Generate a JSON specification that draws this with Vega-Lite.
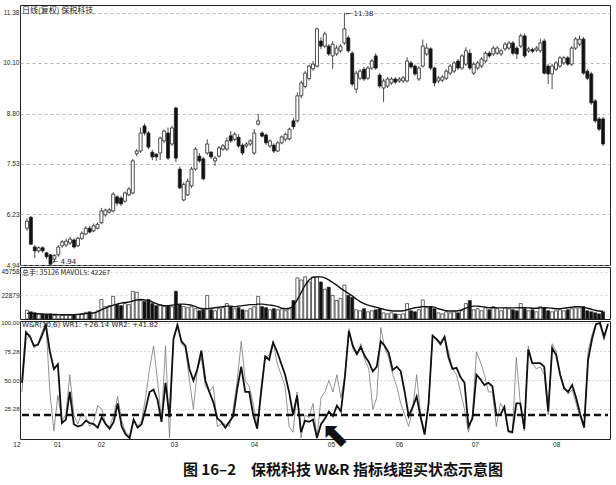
{
"$schema":"https://vega.github.io/schema/vega-lite/v6.json",
"padding":{"left":0,"top":4,"right":6,"bottom":4},
"background":"white",
"spacing":2,
"bounds":"flush",
"datasets":{
"k":[
{"i":0,"o":5.88,"c":6.06,"h":6.13,"l":5.81,"v":8500,"ma":5500,"w1":48,"w2":40},
{"i":1,"o":6.16,"c":5.47,"h":6.19,"l":5.45,"v":7000,"ma":5500,"w1":92,"w2":85},
{"i":2,"o":5.40,"c":5.30,"h":5.45,"l":5.12,"v":6000,"ma":5300,"w1":88,"w2":90},
{"i":3,"o":5.30,"c":5.38,"h":5.42,"l":5.25,"v":5000,"ma":5000,"w1":80,"w2":78},
{"i":4,"o":5.38,"c":5.30,"h":5.42,"l":5.25,"v":4500,"ma":4800,"w1":81,"w2":82},
{"i":5,"o":5.25,"c":5.15,"h":5.28,"l":5.10,"v":4200,"ma":4600,"w1":89,"w2":92},
{"i":6,"o":5.20,"c":4.96,"h":5.22,"l":4.94,"v":5000,"ma":4500,"w1":98,"w2":100},
{"i":7,"o":5.09,"c":5.18,"h":5.22,"l":5.02,"v":3500,"ma":4400,"w1":75,"w2":40},
{"i":8,"o":5.20,"c":5.40,"h":5.45,"l":5.15,"v":4000,"ma":4300,"w1":60,"w2":6},
{"i":9,"o":5.43,"c":5.53,"h":5.58,"l":5.38,"v":3500,"ma":4200,"w1":64,"w2":37},
{"i":10,"o":5.45,"c":5.55,"h":5.62,"l":5.40,"v":4000,"ma":4200,"w1":13,"w2":15},
{"i":11,"o":5.50,"c":5.60,"h":5.66,"l":5.45,"v":3500,"ma":4200,"w1":16,"w2":20},
{"i":12,"o":5.58,"c":5.40,"h":5.62,"l":5.36,"v":4000,"ma":4300,"w1":40,"w2":55},
{"i":13,"o":5.43,"c":5.62,"h":5.66,"l":5.40,"v":4500,"ma":4500,"w1":12,"w2":20},
{"i":14,"o":5.62,"c":5.75,"h":5.80,"l":5.58,"v":5000,"ma":4800,"w1":10,"w2":12},
{"i":15,"o":5.73,"c":5.88,"h":5.93,"l":5.70,"v":6500,"ma":5200,"w1":11,"w2":22},
{"i":16,"o":5.88,"c":5.78,"h":5.93,"l":5.75,"v":7000,"ma":5600,"w1":15,"w2":18},
{"i":17,"o":5.81,"c":5.94,"h":6.00,"l":5.78,"v":6000,"ma":6000,"w1":13,"w2":10},
{"i":18,"o":5.88,"c":5.98,"h":6.03,"l":5.85,"v":8000,"ma":7000,"w1":12,"w2":14},
{"i":19,"o":6.02,"c":6.32,"h":6.40,"l":5.98,"v":19000,"ma":9000,"w1":9,"w2":28},
{"i":20,"o":6.22,"c":6.34,"h":6.38,"l":6.17,"v":12000,"ma":10500,"w1":18,"w2":25},
{"i":21,"o":6.29,"c":6.35,"h":6.40,"l":6.25,"v":13000,"ma":12000,"w1":12,"w2":12},
{"i":22,"o":6.32,"c":6.75,"h":6.80,"l":6.28,"v":22000,"ma":13500,"w1":8,"w2":10},
{"i":23,"o":6.68,"c":6.52,"h":6.72,"l":6.45,"v":14000,"ma":14500,"w1":14,"w2":20},
{"i":24,"o":6.65,"c":6.50,"h":6.70,"l":6.45,"v":13000,"ma":15500,"w1":30,"w2":36},
{"i":25,"o":6.57,"c":6.78,"h":6.82,"l":6.53,"v":15000,"ma":16000,"w1":10,"w2":15},
{"i":26,"o":6.73,"c":6.88,"h":6.93,"l":6.70,"v":14000,"ma":16500,"w1":3,"w2":5},
{"i":27,"o":6.78,"c":7.60,"h":7.65,"l":6.75,"v":27000,"ma":17500,"w1":0,"w2":2},
{"i":28,"o":7.78,"c":7.85,"h":7.90,"l":7.72,"v":26000,"ma":18500,"w1":16,"w2":15},
{"i":29,"o":7.85,"c":8.31,"h":8.45,"l":7.80,"v":18000,"ma":19000,"w1":9,"w2":10},
{"i":30,"o":8.49,"c":8.31,"h":8.55,"l":8.25,"v":17000,"ma":18500,"w1":12,"w2":15},
{"i":31,"o":8.31,"c":7.95,"h":8.36,"l":7.90,"v":19000,"ma":18000,"w1":25,"w2":35},
{"i":32,"o":7.82,"c":7.70,"h":7.88,"l":7.62,"v":15000,"ma":16500,"w1":40,"w2":60},
{"i":33,"o":7.77,"c":7.70,"h":7.80,"l":7.60,"v":13000,"ma":15000,"w1":42,"w2":80},
{"i":34,"o":7.80,"c":8.18,"h":8.22,"l":7.62,"v":14000,"ma":13500,"w1":33,"w2":50},
{"i":35,"o":8.11,"c":8.36,"h":8.40,"l":8.05,"v":12000,"ma":13000,"w1":14,"w2":15},
{"i":36,"o":8.31,"c":7.67,"h":8.45,"l":7.62,"v":13000,"ma":13000,"w1":48,"w2":80},
{"i":37,"o":8.03,"c":8.44,"h":8.50,"l":7.98,"v":12000,"ma":13500,"w1":18,"w2":0},
{"i":38,"o":8.95,"c":7.67,"h":8.98,"l":7.57,"v":27000,"ma":14000,"w1":86,"w2":88},
{"i":39,"o":7.39,"c":6.91,"h":7.45,"l":6.88,"v":14000,"ma":14500,"w1":98,"w2":100},
{"i":40,"o":6.60,"c":7.00,"h":7.05,"l":6.57,"v":12000,"ma":14500,"w1":84,"w2":82},
{"i":41,"o":6.73,"c":7.08,"h":7.15,"l":6.70,"v":11000,"ma":14000,"w1":80,"w2":78},
{"i":42,"o":6.96,"c":7.39,"h":7.45,"l":6.90,"v":12000,"ma":13500,"w1":60,"w2":50},
{"i":43,"o":7.39,"c":7.90,"h":7.95,"l":7.35,"v":10000,"ma":12000,"w1":50,"w2":25},
{"i":44,"o":7.72,"c":7.60,"h":7.80,"l":7.55,"v":8000,"ma":10500,"w1":60,"w2":60},
{"i":45,"o":7.65,"c":7.14,"h":7.70,"l":7.10,"v":9000,"ma":10000,"w1":76,"w2":70},
{"i":46,"o":7.80,"c":8.03,"h":8.15,"l":7.75,"v":23000,"ma":10000,"w1":50,"w2":45},
{"i":47,"o":7.82,"c":7.70,"h":7.85,"l":7.65,"v":9000,"ma":10500,"w1":40,"w2":40},
{"i":48,"o":7.60,"c":7.67,"h":7.72,"l":7.47,"v":8000,"ma":11000,"w1":31,"w2":45},
{"i":49,"o":7.72,"c":7.93,"h":7.98,"l":7.68,"v":10000,"ma":11500,"w1":17,"w2":10},
{"i":50,"o":7.90,"c":7.98,"h":8.03,"l":7.85,"v":11000,"ma":12000,"w1":14,"w2":12},
{"i":51,"o":7.90,"c":8.11,"h":8.20,"l":7.85,"v":15000,"ma":12500,"w1":9,"w2":12},
{"i":52,"o":8.24,"c":8.11,"h":8.36,"l":8.06,"v":12000,"ma":12500,"w1":14,"w2":10},
{"i":53,"o":8.15,"c":8.28,"h":8.33,"l":8.10,"v":10000,"ma":12000,"w1":19,"w2":25},
{"i":54,"o":8.20,"c":7.98,"h":8.28,"l":7.93,"v":11000,"ma":12500,"w1":43,"w2":50},
{"i":55,"o":8.00,"c":7.80,"h":8.05,"l":7.75,"v":9000,"ma":13000,"w1":62,"w2":84},
{"i":56,"o":7.98,"c":8.03,"h":8.08,"l":7.93,"v":8000,"ma":13500,"w1":40,"w2":50},
{"i":57,"o":8.03,"c":8.11,"h":8.15,"l":7.98,"v":10000,"ma":14000,"w1":40,"w2":45},
{"i":58,"o":7.80,"c":8.31,"h":8.41,"l":7.75,"v":12000,"ma":14000,"w1":20,"w2":30},
{"i":59,"o":8.54,"c":8.62,"h":8.80,"l":8.50,"v":22000,"ma":14500,"w1":8,"w2":10},
{"i":60,"o":8.31,"c":8.23,"h":8.36,"l":8.20,"v":12000,"ma":14500,"w1":40,"w2":45},
{"i":61,"o":8.26,"c":8.06,"h":8.30,"l":8.00,"v":11000,"ma":14000,"w1":71,"w2":70},
{"i":62,"o":7.98,"c":8.11,"h":8.15,"l":7.93,"v":9000,"ma":13500,"w1":68,"w2":72},
{"i":63,"o":8.00,"c":7.85,"h":8.05,"l":7.80,"v":10000,"ma":13000,"w1":83,"w2":84},
{"i":64,"o":7.85,"c":8.06,"h":8.10,"l":7.82,"v":9000,"ma":12000,"w1":75,"w2":65},
{"i":65,"o":8.06,"c":8.21,"h":8.25,"l":8.02,"v":10000,"ma":10500,"w1":65,"w2":55},
{"i":66,"o":8.15,"c":8.28,"h":8.32,"l":8.10,"v":8000,"ma":10000,"w1":55,"w2":45},
{"i":67,"o":8.16,"c":8.41,"h":8.45,"l":8.12,"v":10000,"ma":10500,"w1":40,"w2":10},
{"i":68,"o":8.62,"c":8.47,"h":8.70,"l":8.40,"v":18000,"ma":13000,"w1":20,"w2":5},
{"i":69,"o":8.62,"c":9.26,"h":9.35,"l":8.58,"v":40000,"ma":19000,"w1":37,"w2":40},
{"i":70,"o":9.26,"c":9.59,"h":9.65,"l":9.20,"v":38000,"ma":26000,"w1":5,"w2":0},
{"i":71,"o":9.50,"c":9.84,"h":9.90,"l":9.45,"v":41000,"ma":33000,"w1":15,"w2":20},
{"i":72,"o":9.70,"c":10.02,"h":10.05,"l":9.65,"v":36000,"ma":38000,"w1":14,"w2":18},
{"i":73,"o":9.95,"c":10.07,"h":10.15,"l":9.90,"v":41000,"ma":40500,"w1":16,"w2":30},
{"i":74,"o":10.02,"c":10.97,"h":11.00,"l":9.98,"v":41000,"ma":41000,"w1":0,"w2":0},
{"i":75,"o":10.66,"c":10.53,"h":10.75,"l":10.45,"v":36000,"ma":41000,"w1":12,"w2":35},
{"i":76,"o":10.53,"c":10.84,"h":10.90,"l":10.48,"v":29000,"ma":40000,"w1":17,"w2":40},
{"i":77,"o":10.53,"c":10.33,"h":10.58,"l":10.28,"v":31000,"ma":38000,"w1":23,"w2":50},
{"i":78,"o":10.28,"c":10.58,"h":10.66,"l":9.95,"v":23000,"ma":35500,"w1":19,"w2":40},
{"i":79,"o":10.33,"c":10.48,"h":10.55,"l":10.28,"v":18000,"ma":33000,"w1":28,"w2":55},
{"i":80,"o":10.41,"c":10.53,"h":10.58,"l":10.36,"v":20000,"ma":30000,"w1":23,"w2":35},
{"i":81,"o":10.61,"c":10.97,"h":11.38,"l":10.56,"v":33000,"ma":27500,"w1":53,"w2":55},
{"i":82,"o":10.74,"c":10.41,"h":10.80,"l":10.36,"v":23000,"ma":25000,"w1":93,"w2":95},
{"i":83,"o":10.35,"c":9.56,"h":10.40,"l":9.50,"v":21000,"ma":22500,"w1":80,"w2":78},
{"i":84,"o":9.43,"c":9.84,"h":9.90,"l":9.33,"v":9000,"ma":19500,"w1":73,"w2":72},
{"i":85,"o":9.71,"c":9.89,"h":9.95,"l":9.66,"v":8000,"ma":17000,"w1":79,"w2":82},
{"i":86,"o":9.94,"c":9.69,"h":10.00,"l":9.64,"v":10000,"ma":15000,"w1":71,"w2":68},
{"i":87,"o":9.71,"c":9.97,"h":10.02,"l":9.66,"v":7000,"ma":13500,"w1":66,"w2":60},
{"i":88,"o":9.97,"c":10.15,"h":10.20,"l":9.92,"v":8000,"ma":12500,"w1":58,"w2":25},
{"i":89,"o":10.28,"c":9.97,"h":10.35,"l":9.92,"v":9000,"ma":11500,"w1":62,"w2":35},
{"i":90,"o":9.79,"c":9.51,"h":9.84,"l":9.45,"v":10000,"ma":10500,"w1":84,"w2":96},
{"i":91,"o":9.46,"c":9.64,"h":9.70,"l":9.10,"v":6000,"ma":9500,"w1":80,"w2":78},
{"i":92,"o":9.51,"c":9.69,"h":9.74,"l":9.46,"v":5000,"ma":8500,"w1":74,"w2":70},
{"i":93,"o":9.59,"c":9.69,"h":9.74,"l":9.54,"v":6000,"ma":8000,"w1":59,"w2":55},
{"i":94,"o":9.69,"c":9.61,"h":9.74,"l":9.56,"v":5000,"ma":7800,"w1":62,"w2":45},
{"i":95,"o":9.64,"c":9.69,"h":9.74,"l":9.59,"v":4500,"ma":7800,"w1":58,"w2":30},
{"i":96,"o":9.64,"c":9.72,"h":9.77,"l":9.59,"v":5000,"ma":8000,"w1":40,"w2":20},
{"i":97,"o":9.64,"c":10.15,"h":10.25,"l":9.60,"v":15000,"ma":9000,"w1":19,"w2":10},
{"i":98,"o":10.10,"c":10.00,"h":10.15,"l":9.95,"v":8000,"ma":10000,"w1":27,"w2":25},
{"i":99,"o":10.02,"c":9.82,"h":10.06,"l":9.77,"v":7000,"ma":11000,"w1":36,"w2":55},
{"i":100,"o":9.69,"c":9.97,"h":10.02,"l":9.64,"v":9000,"ma":11500,"w1":18,"w2":20},
{"i":101,"o":10.02,"c":10.53,"h":10.70,"l":9.98,"v":18500,"ma":12000,"w1":3,"w2":5},
{"i":102,"o":10.33,"c":10.48,"h":10.60,"l":10.28,"v":11000,"ma":12000,"w1":30,"w2":30},
{"i":103,"o":10.46,"c":9.97,"h":10.50,"l":9.92,"v":12000,"ma":12000,"w1":89,"w2":90},
{"i":104,"o":9.97,"c":9.59,"h":10.00,"l":9.50,"v":10000,"ma":11500,"w1":86,"w2":85},
{"i":105,"o":9.64,"c":9.72,"h":9.77,"l":9.59,"v":6000,"ma":10000,"w1":82,"w2":80},
{"i":106,"o":9.66,"c":9.74,"h":9.79,"l":9.61,"v":5000,"ma":9000,"w1":88,"w2":88},
{"i":107,"o":9.71,"c":9.89,"h":9.94,"l":9.66,"v":7000,"ma":8000,"w1":70,"w2":75},
{"i":108,"o":9.84,"c":10.02,"h":10.07,"l":9.79,"v":6000,"ma":7800,"w1":60,"w2":60},
{"i":109,"o":9.89,"c":10.10,"h":10.15,"l":9.84,"v":7000,"ma":7800,"w1":61,"w2":55},
{"i":110,"o":10.15,"c":9.97,"h":10.20,"l":9.92,"v":6000,"ma":8000,"w1":53,"w2":40},
{"i":111,"o":9.97,"c":10.28,"h":10.33,"l":9.92,"v":8000,"ma":9000,"w1":48,"w2":25},
{"i":112,"o":10.07,"c":10.41,"h":10.50,"l":10.02,"v":15000,"ma":10500,"w1":10,"w2":5},
{"i":113,"o":10.35,"c":9.97,"h":10.45,"l":9.92,"v":18000,"ma":12000,"w1":17,"w2":20},
{"i":114,"o":9.84,"c":10.07,"h":10.12,"l":9.79,"v":9000,"ma":12500,"w1":55,"w2":75},
{"i":115,"o":9.97,"c":10.10,"h":10.15,"l":9.92,"v":10000,"ma":12500,"w1":51,"w2":66},
{"i":116,"o":10.02,"c":10.20,"h":10.25,"l":9.97,"v":8000,"ma":12000,"w1":46,"w2":55},
{"i":117,"o":10.15,"c":10.35,"h":10.40,"l":10.10,"v":11000,"ma":11500,"w1":48,"w2":40},
{"i":118,"o":10.35,"c":10.28,"h":10.40,"l":10.23,"v":9000,"ma":11000,"w1":45,"w2":40},
{"i":119,"o":10.33,"c":10.48,"h":10.53,"l":10.28,"v":12000,"ma":11000,"w1":20,"w2":10},
{"i":120,"o":10.35,"c":10.48,"h":10.53,"l":10.30,"v":10000,"ma":10800,"w1":20,"w2":30},
{"i":121,"o":10.33,"c":10.41,"h":10.46,"l":10.28,"v":8000,"ma":10800,"w1":27,"w2":25},
{"i":122,"o":10.46,"c":10.58,"h":10.63,"l":10.41,"v":11000,"ma":10800,"w1":6,"w2":5},
{"i":123,"o":10.48,"c":10.61,"h":10.66,"l":10.43,"v":10000,"ma":10800,"w1":5,"w2":4},
{"i":124,"o":10.61,"c":10.35,"h":10.66,"l":10.30,"v":9000,"ma":10800,"w1":30,"w2":70},
{"i":125,"o":10.48,"c":10.33,"h":10.53,"l":10.20,"v":8000,"ma":10800,"w1":30,"w2":30},
{"i":126,"o":10.53,"c":10.79,"h":10.85,"l":10.48,"v":15000,"ma":11000,"w1":8,"w2":6},
{"i":127,"o":10.79,"c":10.28,"h":10.85,"l":10.23,"v":10000,"ma":11000,"w1":77,"w2":80},
{"i":128,"o":10.41,"c":10.46,"h":10.51,"l":10.36,"v":8000,"ma":10800,"w1":65,"w2":65},
{"i":129,"o":10.44,"c":10.40,"h":10.49,"l":10.35,"v":9000,"ma":10500,"w1":65,"w2":60},
{"i":130,"o":10.43,"c":10.48,"h":10.53,"l":10.38,"v":7000,"ma":10500,"w1":65,"w2":62},
{"i":131,"o":10.41,"c":10.61,"h":10.72,"l":10.36,"v":12000,"ma":10800,"w1":62,"w2":55},
{"i":132,"o":10.66,"c":9.84,"h":10.72,"l":9.80,"v":11000,"ma":11000,"w1":23,"w2":20},
{"i":133,"o":10.02,"c":9.82,"h":10.07,"l":9.56,"v":8000,"ma":10800,"w1":78,"w2":82},
{"i":134,"o":9.82,"c":10.02,"h":10.07,"l":9.43,"v":7000,"ma":10500,"w1":72,"w2":75},
{"i":135,"o":9.94,"c":10.10,"h":10.15,"l":9.89,"v":8000,"ma":10000,"w1":55,"w2":55},
{"i":136,"o":10.02,"c":10.23,"h":10.28,"l":9.97,"v":9000,"ma":10000,"w1":43,"w2":45},
{"i":137,"o":10.10,"c":10.23,"h":10.28,"l":10.05,"v":8000,"ma":10500,"w1":40,"w2":38},
{"i":138,"o":10.23,"c":10.07,"h":10.28,"l":10.02,"v":9000,"ma":11000,"w1":46,"w2":42},
{"i":139,"o":10.07,"c":10.48,"h":10.53,"l":10.02,"v":10000,"ma":11500,"w1":35,"w2":30},
{"i":140,"o":10.48,"c":10.71,"h":10.76,"l":10.43,"v":11000,"ma":12000,"w1":21,"w2":18},
{"i":141,"o":10.58,"c":10.71,"h":10.80,"l":10.53,"v":11000,"ma":12000,"w1":9,"w2":10},
{"i":142,"o":10.71,"c":9.84,"h":10.76,"l":9.80,"v":12000,"ma":11500,"w1":68,"w2":75},
{"i":143,"o":9.89,"c":9.71,"h":9.94,"l":9.66,"v":8000,"ma":10500,"w1":86,"w2":90},
{"i":144,"o":9.82,"c":9.08,"h":9.87,"l":9.03,"v":7000,"ma":9500,"w1":99,"w2":100},
{"i":145,"o":9.13,"c":8.62,"h":9.18,"l":8.57,"v":6000,"ma":8500,"w1":100,"w2":98},
{"i":146,"o":8.67,"c":8.41,"h":8.72,"l":8.36,"v":5000,"ma":7800,"w1":88,"w2":85},
{"i":147,"o":8.67,"c":8.03,"h":8.72,"l":7.98,"v":7000,"ma":7500,"w1":99,"w2":100}
],
"hi":[{"i":81,"p":11.38,"t":"⌐ 11.38"}],
"lo":[{"i":6,"p":4.94,"t":"← 4.94"}],
"arrow":[{"i":78.5,"w":2,"t":"⬉"}]
},
"title":{"text":"图 16–2\u2002\u2002保税科技 W&R 指标线超买状态示意图","orient":"bottom","anchor":"middle","fontSize":15,"fontWeight":"bold","font":"Noto Sans CJK SC","color":"#111","offset":10,"dx":36},
"config":{
"view":{"stroke":"#222","strokeWidth":1},
"axis":{"labelFont":"Liberation Sans","labelFontSize":6.5,"labelColor":"#222","ticks":false,"domain":false,"labelPadding":1}
},
"vconcat":[
{
"width":590,"height":260,
"title":{"text":"日线(复权)  保税科技","anchor":"start","frame":"group","offset":-10,"fontSize":8,"fontWeight":"normal","font":"Noto Sans CJK SC","dx":2,"color":"#222"},
"data":{"name":"k"},
"layer":[
{"mark":{"type":"rule","stroke":"#222","strokeWidth":0.8},
 "encoding":{
  "x":{"field":"i","type":"quantitative","scale":{"domain":[-0.5,147.5],"nice":false,"zero":false},"axis":null},
  "y":{"field":"l","type":"quantitative","title":null,"scale":{"domain":[4.94,11.58],"nice":false,"zero":false},
       "axis":{"values":[4.94,6.23,7.53,8.8,10.1,11.38],"format":".2f","grid":true,"gridDash":[3,3],"gridColor":"#999","gridWidth":0.7}},
  "y2":{"field":"h"}}},
{"mark":{"type":"bar","width":3,"stroke":"#222","strokeWidth":0.8},
 "encoding":{
  "x":{"field":"i","type":"quantitative"},
  "y":{"field":"o","type":"quantitative","title":null},
  "y2":{"field":"c"},
  "fill":{"condition":{"test":"datum.c < datum.o","value":"#111"},"value":"white"}}},
{"data":{"name":"hi"},
 "mark":{"type":"text","align":"left","baseline":"middle","dx":1,"dy":1,"fontSize":7,"font":"DejaVu Sans","color":"#222"},
 "encoding":{"x":{"field":"i","type":"quantitative"},"y":{"field":"p","type":"quantitative","title":null},"text":{"field":"t"}}},
{"data":{"name":"lo"},
 "mark":{"type":"text","align":"left","baseline":"bottom","dx":2,"dy":0,"fontSize":7,"font":"DejaVu Sans","color":"#222"},
 "encoding":{"x":{"field":"i","type":"quantitative"},"y":{"field":"p","type":"quantitative","title":null},"text":{"field":"t"}}}
]
},
{
"width":590,"height":52,
"title":{"text":"总手: 35126 MAVOL5: 42267","anchor":"start","frame":"group","offset":-9,"fontSize":7,"fontWeight":"normal","font":"Noto Sans CJK SC","dx":2,"color":"#222"},
"data":{"name":"k"},
"layer":[
{"mark":{"type":"bar","width":3,"stroke":"#222","strokeWidth":0.7},
 "encoding":{
  "x":{"field":"i","type":"quantitative","scale":{"domain":[-0.5,147.5],"nice":false,"zero":false},"axis":null},
  "y":{"field":"v","type":"quantitative","title":null,"scale":{"domain":[0,50600],"nice":false},
       "axis":{"values":[22879,45758],"format":"d","grid":true,"gridDash":[2,3],"gridColor":"#bbb","gridWidth":0.6}},
  "y2":{"datum":0},
  "fill":{"condition":{"test":"datum.c < datum.o","value":"#111"},"value":"white"}}},
{"mark":{"type":"line","stroke":"#111","strokeWidth":1.4,"interpolate":"monotone"},
 "encoding":{
  "x":{"field":"i","type":"quantitative"},
  "y":{"field":"ma","type":"quantitative","title":null}}}
]
},
{
"width":590,"height":118,
"title":{"text":"W&R(10,6) WR1: +26.14 WR2: +41.82","anchor":"start","frame":"group","offset":-9,"fontSize":7,"fontWeight":"normal","font":"DejaVu Sans","dx":2,"color":"#222"},
"data":{"name":"k"},
"encoding":{
  "x":{"field":"i","type":"quantitative","scale":{"domain":[-0.5,147.5],"nice":false,"zero":false},"title":null,
       "axis":{"values":[-0.5,8.8,19.8,38.1,58.2,77.5,94.6,113.6,134],"labelFlush":false,"labelOverlap":false,"labelBound":false,"grid":false,"labelPadding":2,
               "labelExpr":"datum.value < 0 ? '12' : datum.value < 10 ? '01' : datum.value < 20 ? '02' : datum.value < 40 ? '03' : datum.value < 60 ? '04' : datum.value < 80 ? '05' : datum.value < 100 ? '06' : datum.value < 120 ? '07' : '08'",
               "labelAlign":{"expr":"datum.value < 0 ? 'right' : 'center'"}}},
  "y":{"field":"w2","type":"quantitative","title":null,"scale":{"domain":[-0.9,101.7],"nice":false,"zero":false},
       "axis":{"values":[100,75.28,50,25.28],"format":".2f","labelFontSize":6,"labelOverlap":false,"grid":true,"gridDash":[1,3],"gridColor":"#888","gridWidth":0.7}}
},
"layer":[
{"mark":{"type":"line","stroke":"#777","strokeWidth":0.8}},
{"mark":{"type":"line","stroke":"#111","strokeWidth":2.6,"strokeDash":[7,4]},
 "encoding":{"y":{"datum":20,"type":"quantitative","title":null,
   "axis":{"values":[100,75.28,50,25.28],"format":".2f","labelFontSize":6,"labelOverlap":false,"grid":true,"gridDash":[1,3],"gridColor":"#888","gridWidth":0.7}}}},
{"mark":{"type":"line","stroke":"#111","strokeWidth":1.8},
 "encoding":{"y":{"field":"w1","type":"quantitative","title":null}}},
{"data":{"name":"arrow"},
 "mark":{"type":"text","align":"center","baseline":"middle","fontSize":34,"font":"DejaVu Sans","color":"#111"},
 "encoding":{"y":{"field":"w","type":"quantitative","title":null},"text":{"field":"t"}}}
]
}
]
}
